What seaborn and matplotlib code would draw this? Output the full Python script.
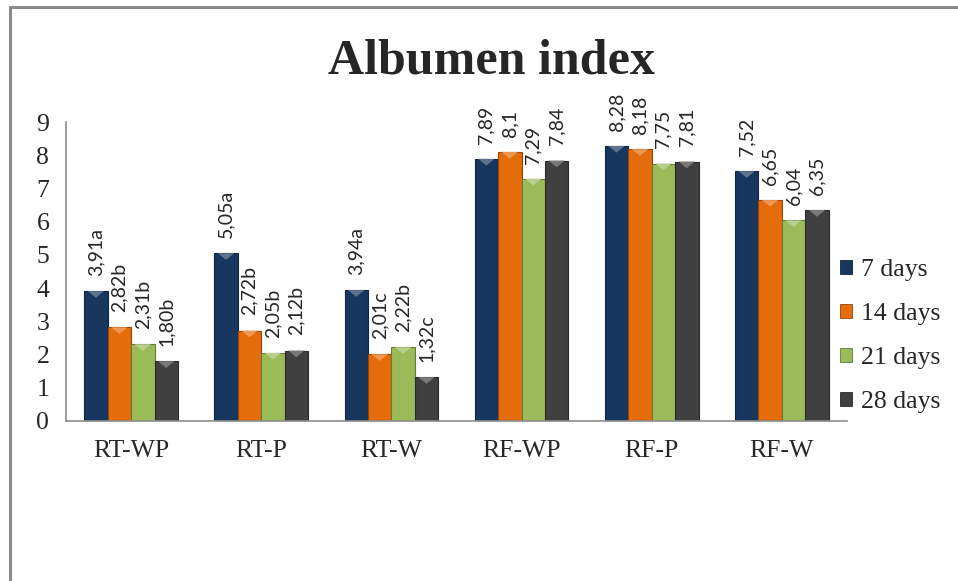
import matplotlib
matplotlib.use("Agg")
import matplotlib.pyplot as plt
from matplotlib.lines import Line2D
from matplotlib.patches import Polygon, Patch
import matplotlib.colors as mcolors
import seaborn as sns
import pandas as pd
import numpy as np

# Storage groups and storage periods
groups = ["RT-WP", "RT-P", "RT-W", "RF-WP", "RF-P", "RF-W"]
periods = ["7 days", "14 days", "21 days", "28 days"]

# Albumen index values per period (one value per group)
day7 = [3.91, 5.05, 3.94, 7.89, 8.28, 7.52]
day14 = [2.82, 2.72, 2.01, 8.10, 8.18, 6.65]
day21 = [2.31, 2.05, 2.22, 7.29, 7.75, 6.04]
day28 = [1.80, 2.12, 1.32, 7.84, 7.81, 6.35]

# Bar annotations (with significance letters)
lab7 = ["3,91a", "5,05a", "3,94a", "7,89", "8,28", "7,52"]
lab14 = ["2,82b", "2,72b", "2,01c", "8,1", "8,18", "6,65"]
lab21 = ["2,31b", "2,05b", "2,22b", "7,29", "7,75", "6,04"]
lab28 = ["1,80b", "2,12b", "1,32c", "7,84", "7,81", "6,35"]

yticks = list(range(0, 10))

palette = ["#17375E", "#E46C0A", "#9BBB59", "#404040"]

values = [day7, day14, day21, day28]
labels = [lab7, lab14, lab21, lab28]

df = pd.DataFrame({
    "group": [g for _ in periods for g in groups],
    "period": [p for p in periods for _ in groups],
    "value": [v for series in values for v in series],
})

sns.set_style("white")
plt.rcParams["font.family"] = ["Liberation Serif", "DejaVu Serif"]

fig = plt.figure(figsize=(9.58, 5.81), dpi=100)
ax = fig.add_axes([0.0689, 0.2754, 0.8151, 0.5146])

sns.barplot(data=df, x="group", y="value", hue="period", order=groups,
            hue_order=periods, palette=palette, width=0.72, saturation=1,
            errorbar=None, ax=ax, legend=False)

def shade(c, f):
    r, g, b = mcolors.to_rgb(c)
    if f > 0:
        return (r + (1 - r) * f, g + (1 - g) * f, b + (1 - b) * f)
    return (r * (1 + f), g * (1 + f), b * (1 + f))

# Outline and bevel highlight on each bar, plus the rotated value labels
for i, cont in enumerate(ax.containers):
    col = palette[i]
    for bar, txt in zip(cont, labels[i]):
        bar.set_edgecolor(shade(col, -0.35))
        bar.set_linewidth(0.8)
        x0 = bar.get_x()
        w = bar.get_width()
        h = bar.get_height()
        tri = Polygon([[x0 + 0.15 * w, h], [x0 + 0.85 * w, h],
                       [x0 + 0.5 * w, h - 0.2]], closed=True,
                      facecolor=shade(col, 0.3), edgecolor="none", zorder=3)
        ax.add_patch(tri)
        ax.annotate(txt, (x0 + w / 2, h), xytext=(0, 11),
                    textcoords="offset points", rotation=90, ha="center",
                    va="bottom", fontsize=14, family="Lato", color="#262626",
                    annotation_clip=False)

ax.set_ylim(0, 9)
ax.set_xlim(-0.5, len(groups) - 0.5)
ax.set_yticks(yticks)
ax.set_yticklabels([str(t) for t in yticks])
ax.tick_params(axis="y", length=0, pad=12, labelsize=18.5)
ax.tick_params(axis="x", length=0, pad=14, labelsize=18.5)
ax.set_xlabel("")
ax.set_ylabel("")
for s in ["top", "right"]:
    ax.spines[s].set_visible(False)
for s in ["left", "bottom"]:
    ax.spines[s].set_color("#8C8C8C")
    ax.spines[s].set_linewidth(1.2)

handles = [Patch(facecolor=c, edgecolor=shade(c, -0.35), linewidth=0.6)
           for c in palette]
fig.legend(handles, periods, loc="center left",
           bbox_to_anchor=(0.877, 0.4217), frameon=False, fontsize=18.5,
           handlelength=0.45, handleheight=0.45, handletextpad=0.35,
           labelspacing=0.86, borderpad=0, borderaxespad=0)

fig.text(0.513, 0.895, "Albumen index", ha="center", va="center",
         fontsize=36, fontweight="bold")

# Outer chart border (left and top edges)
fig.add_artist(Line2D([9.5 / 958, 9.5 / 958], [0, 1 - 7 / 581],
                      transform=fig.transFigure, color="#8A8A8A", lw=2.2))
fig.add_artist(Line2D([9.5 / 958, 1], [1 - 7 / 581, 1 - 7 / 581],
                      transform=fig.transFigure, color="#8A8A8A", lw=2.2))

fig.savefig("out.png", dpi=100, facecolor="white")
